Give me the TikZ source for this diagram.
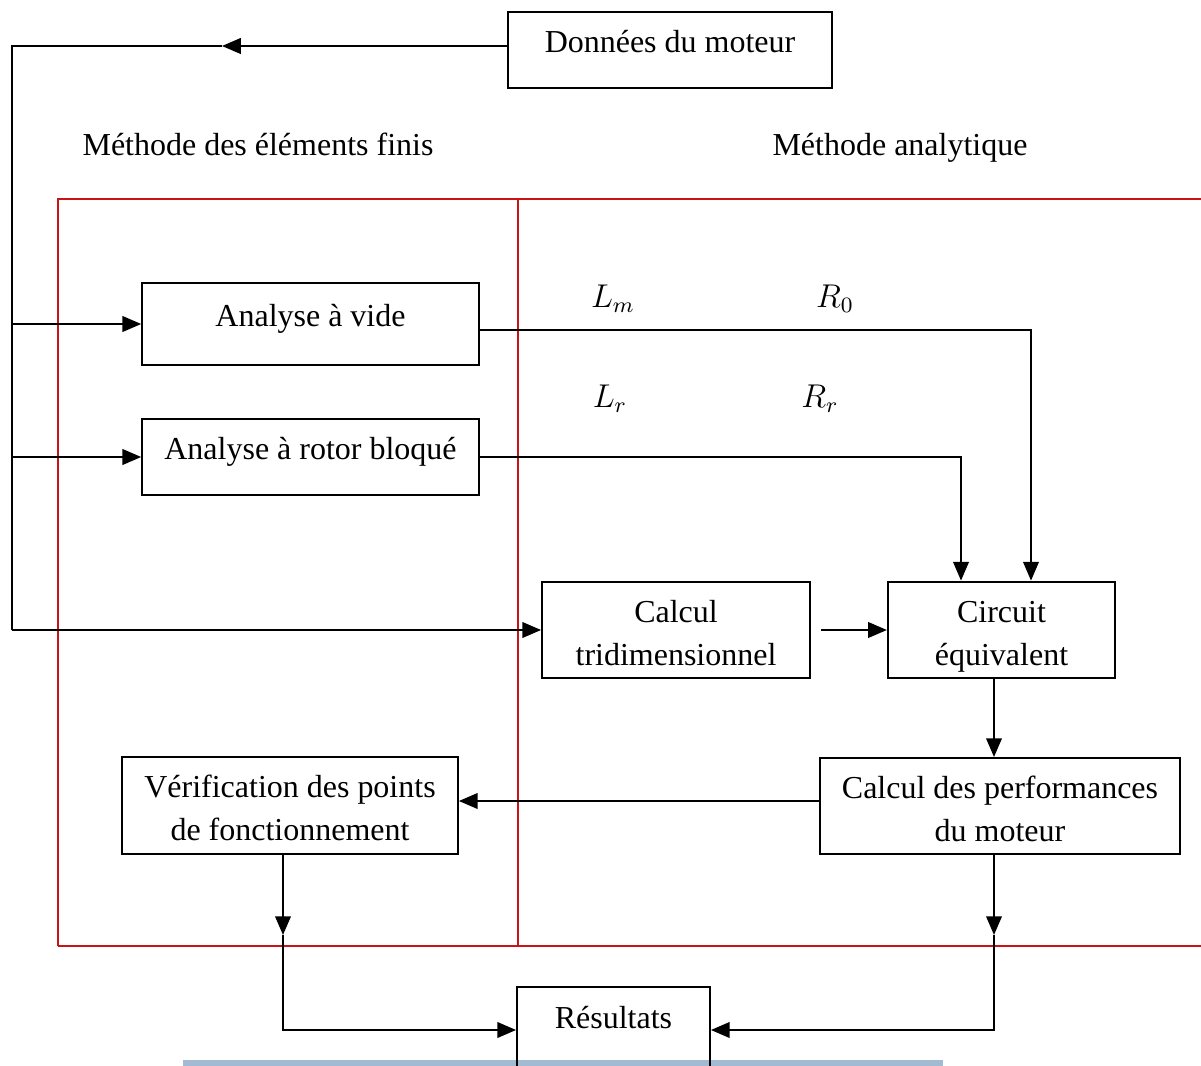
\documentclass[tikz,border=0pt]{standalone}
\usepackage{fontspec}
\setmainfont{Liberation Serif}
\usetikzlibrary{arrows.meta, positioning, calc}
\definecolor{frameRed}{RGB}{200,20,20}
\definecolor{stripBlue}{RGB}{163,186,211}
\tikzset{
    basicbox/.style={
        rectangle, draw=black, line width=0.7pt, fill=white,
        align=center, font=\fontsize{11.65}{15.5}\selectfont, inner sep=2pt,
        text height=25.5pt, text depth=0pt
    },
    onelinebox/.style={basicbox, text height=8pt, text depth=6pt},
    arrow/.style={-{Triangle[length=2.4mm, width=2mm]}, line width=0.7pt},
    link/.style={line width=0.7pt},
    frame/.style={frameRed, line width=0.6pt},
    heading/.style={font=\fontsize{11.65}{15.5}\selectfont, text height=8pt, text depth=0.5pt},
}

\begin{document}
\begin{tikzpicture}[x=0.0128cm, y=-0.0128cm]
    \clip (0,0) rectangle (1201,1066);

    % Frames
    \draw[frame] (58,946) -- (58,199) -- (1210,199);
    \draw[frame] (58,946) -- (1210,946);
    \draw[frame] (518,199) -- (518,946);
    \fill[stripBlue] (183,1060) rectangle (943,1066);

    % Headings
    \node[heading] (fem) at (258,145) {Méthode des éléments finis};
    \node[heading] (ana) at (900,145) {Méthode analytique};

    % Boxes
    \node[onelinebox, minimum width=4.15cm, minimum height=0.97cm] (donnees) at (670,50) {Données du moteur};
    \node[onelinebox, minimum width=4.31cm, minimum height=1.05cm] (vide) at (310.5,324) {Analyse à vide};
    \node[onelinebox, minimum width=4.31cm, minimum height=0.97cm] (rotor) at (310.5,457) {Analyse à rotor bloqué};
    \node[basicbox, minimum width=3.43cm, minimum height=1.24cm] (calc) at (676,630) {Calcul\\tridimensionnel};
    \node[basicbox, minimum width=2.91cm, minimum height=1.24cm] (circuit) at (1001.5,630) {Circuit\\équivalent};
    \node[basicbox, minimum width=4.61cm, minimum height=1.23cm] (perf) at (1000,806) {Calcul des performances\\du moteur};
    \node[basicbox, minimum width=4.30cm, minimum height=1.24cm] (verif) at (290,805.5) {Vérification des points\\de fonctionnement};
    \node[basicbox, fill=none, minimum width=2.47cm, minimum height=1.10cm] (res) at (613.5,1030) {};
    \node[heading] (restxt) at (613.5,1018) {Résultats};

    % Parameters
    \node[heading] (lm) at (613,297) {$L_m$};
    \node[heading] (rzero) at (835,297) {$R_0$};
    \node[heading] (lr) at (610,397) {$L_r$};
    \node[heading] (rr) at (820,397) {$R_r$};

    % Left bus
    \coordinate (topturn) at (12,46);
    \coordinate (toptip) at (222,46);
    \draw[arrow] (donnees.west |- topturn) -- (toptip);
    \draw[link] (toptip) -- (topturn) -- (topturn |- calc.west);
    \draw[arrow] (topturn |- vide.west) -- (vide.west);
    \draw[arrow] (topturn |- rotor.west) -- (rotor.west);
    \draw[arrow] (topturn |- calc.west) -- (calc.west);

    % Parameters to circuit
    \coordinate (videdrop) at (1031,330);
    \coordinate (rotordrop) at (961,457);
    \draw[arrow] (vide.east |- videdrop) -- (videdrop) -- (videdrop |- circuit.north);
    \draw[arrow] (rotor.east) -- (rotordrop) -- (rotordrop |- circuit.north);
    \draw[arrow] ([xshift=3.6pt]calc.east) -- (circuit.west);

    % Performances and results
    \coordinate (perftip) at (994,935);
    \coordinate (veriftip) at (283,935);
    \coordinate (backline) at (640,801);
    \draw[arrow] (perftip |- circuit.south) -- (perftip |- perf.north);
    \draw[arrow] (perf.west |- backline) -- (verif.east |- backline);
    \draw[arrow] (veriftip |- verif.south) -- (veriftip);
    \draw[arrow] (veriftip) |- (res.west);
    \draw[arrow] (perftip |- perf.south) -- (perftip);
    \draw[arrow] (perftip) |- (res.east);
\end{tikzpicture}
\end{document}
